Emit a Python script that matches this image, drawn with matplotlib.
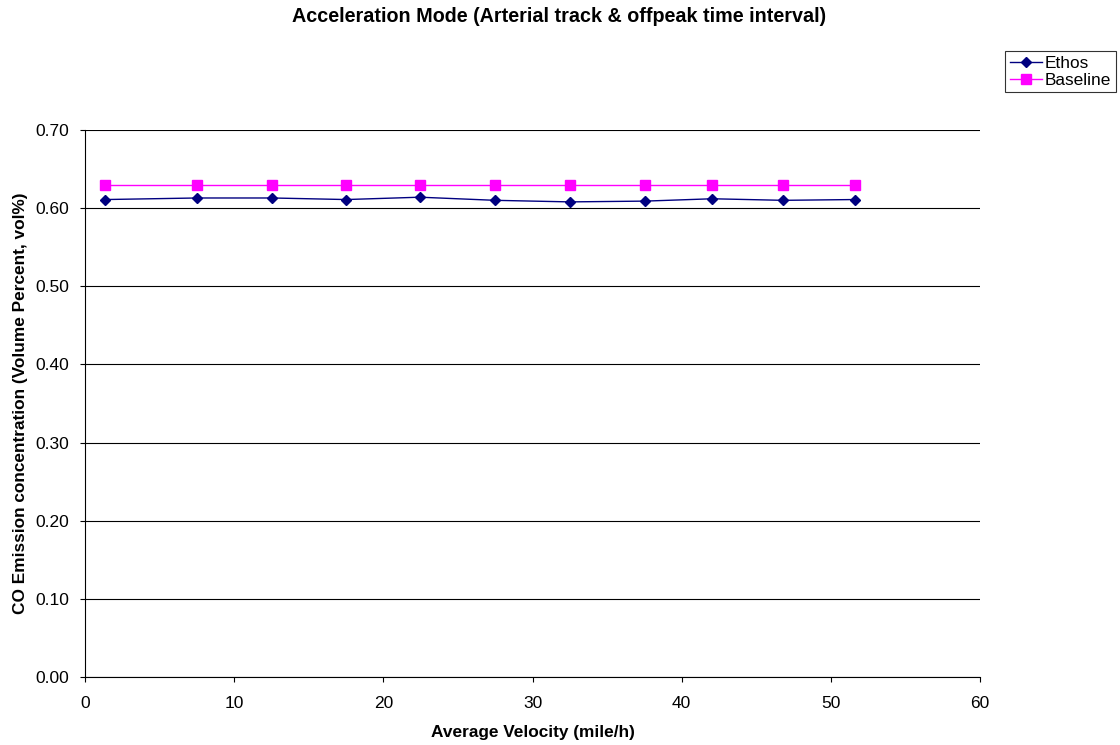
import matplotlib
matplotlib.use("Agg")
import matplotlib.pyplot as plt
import numpy as np

velocity = [1.35, 7.5, 12.55, 17.5, 22.45, 27.5, 32.5, 37.55, 42.05, 46.8, 51.6]
ethos = [0.611, 0.613, 0.613, 0.611, 0.614, 0.610, 0.608, 0.609, 0.612, 0.610, 0.611]
baseline = [0.630] * 11

plt.rcParams["font.family"] = ["Liberation Sans", "DejaVu Sans"]

fig = plt.figure(figsize=(11.2, 7.45), dpi=100)
ax = fig.add_axes([85 / 1120, 68 / 745, 895 / 1120, 547 / 745])

ax.plot(velocity, ethos, color="#000080", marker="D", markersize=5.5, linewidth=1, label="Ethos")
ax.plot(velocity, baseline, color="#FF00FF", marker="s", markersize=6.5, linewidth=1, label="Baseline")

ax.set_xlim(0, 60)
ax.set_ylim(0, 0.7)
ax.set_xticks(np.arange(0, 61, 10))
yt = np.arange(0, 0.71, 0.1)
ax.set_yticks(yt)
ax.set_yticklabels([f"{v:.2f}" for v in yt])
ax.yaxis.grid(True, color="black", linewidth=0.8)
ax.set_axisbelow(True)
ax.spines["top"].set_visible(False)
ax.spines["right"].set_visible(False)
ax.tick_params(labelsize=12.5, length=3.6, direction="out")
ax.tick_params(axis="x", pad=10)
ax.tick_params(axis="y", pad=8)

ax.set_xlabel("Average Velocity (mile/h)", fontsize=12.4, fontweight="bold")
ax.xaxis.set_label_coords(0.5, (677 - 725) / 547)
ax.set_ylabel("CO Emission concentration (Volume Percent, vol%)", fontsize=12.4, fontweight="bold")
ax.yaxis.set_label_coords((21 - 85) / 895, 0.5)
ax.yaxis.label.set_va("center")

fig.text(559 / 1120, 1 - 16 / 745, "Acceleration Mode (Arterial track & offpeak time interval)",
         ha="center", va="center", fontsize=14.2, fontweight="bold")

leg = fig.legend(loc="upper left", bbox_to_anchor=(1005 / 1120, 1 - 51 / 745), fontsize=12.4,
                 frameon=True, fancybox=False, edgecolor="black", handlelength=1.9,
                 borderpad=0.27, labelspacing=0.11, handletextpad=0.15, borderaxespad=0)
leg.get_frame().set_linewidth(0.8)

plt.savefig("out.png", dpi=100)
plt.close()
